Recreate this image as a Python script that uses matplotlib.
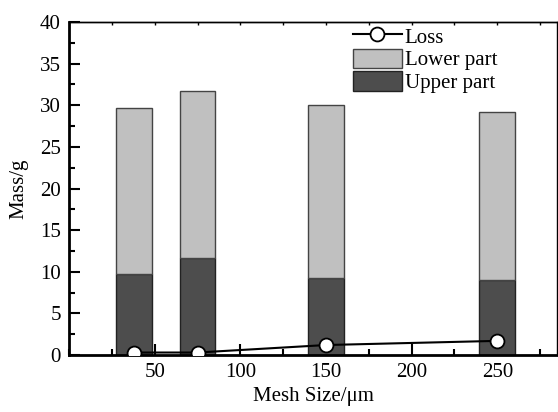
import matplotlib.pyplot as plt
from matplotlib.ticker import MultipleLocator

plt.rcParams['font.family'] = ['Liberation Serif', 'DejaVu Serif']

mesh = [38, 75, 150, 250]
upper = [9.7, 11.6, 9.2, 9.0]
total = [29.7, 31.7, 30.0, 29.2]
lower = [t - u for t, u in zip(total, upper)]
loss = [0.3, 0.3, 1.2, 1.7]

fig = plt.figure(figsize=(5.58, 4.12), dpi=100)
ax = fig.add_axes([0.1237, 0.1383, 0.875, 0.8083])

b_up = ax.bar(mesh, upper, width=21, color='#4d4d4d', edgecolor='#222222', linewidth=1,
              label='Upper part', zorder=2)
b_low = ax.bar(mesh, lower, width=21, bottom=upper, color='#c0c0c0', edgecolor='#444444',
               linewidth=1, label='Lower part', zorder=2)
ln, = ax.plot(mesh, loss, color='black', lw=1.5, marker='o', ms=10, mfc='white',
              mec='black', mew=1.3, label='Loss', zorder=3)

ax.set_xlim(0, 285)
ax.set_ylim(0, 40)
ax.set_xticks([50, 100, 150, 200, 250])
ax.xaxis.set_minor_locator(MultipleLocator(25))
ax.yaxis.set_major_locator(MultipleLocator(5))
ax.yaxis.set_minor_locator(MultipleLocator(2.5))

ax.tick_params(axis='both', which='major', direction='in', length=8, width=1.5,
               labelsize=15, pad=6)
ax.tick_params(axis='both', which='minor', direction='in', length=4, width=1.5)

top = ax.secondary_xaxis('top')
top.set_xticks([25, 50, 75, 100, 125, 150, 175, 200, 225, 250, 275])
top.tick_params(direction='in', length=2.5, width=1, labeltop=False)
top.spines['top'].set_linewidth(1)

for s in ['left', 'bottom']:
    ax.spines[s].set_linewidth(2)
for s in ['right', 'top']:
    ax.spines[s].set_linewidth(1)

ax.set_xlabel('Mesh Size/\u03bcm', fontsize=15, labelpad=3)
ax.set_ylabel('Mass/g', fontsize=15, labelpad=8)

ax.legend([ln, b_low, b_up], ['Loss', 'Lower part', 'Upper part'], loc='upper left',
          bbox_to_anchor=(0.568, 1.0075), frameon=False, fontsize=15,
          handlelength=2.35, handleheight=1.05, labelspacing=0.05, borderpad=0.3,
          borderaxespad=0, handletextpad=0.15)

fig.savefig('out.png', dpi=100)
